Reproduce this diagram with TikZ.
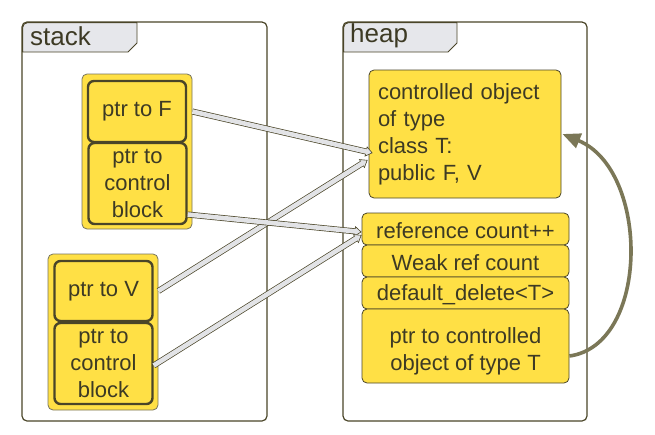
\documentclass[tikz,border=0pt]{standalone}
\usepackage{fontspec}
\setmainfont{Liberation Sans}
\usetikzlibrary{arrows.meta,calc}
\definecolor{yel}{HTML}{FFE045}
\definecolor{dk}{HTML}{4A4528}
\definecolor{txt}{HTML}{3D3A24}
\definecolor{tabgray}{HTML}{E6E7EB}
\definecolor{conngray}{HTML}{E2E3E6}
\definecolor{curv}{HTML}{7B7757}
\newcommand\lowertext[2]{\raisebox{-#1}[\height][\depth]{#2}}
\begin{document}
\begin{tikzpicture}[x=1pt,y=-1pt,
  frame/.style={draw=dk, line width=1.2pt, rounded corners=5pt, inner sep=0pt},
  tabshape/.style={draw=dk, line width=0.9pt, fill=tabgray},
  tablabel/.style={anchor=west, text=txt, font=\fontsize{26}{30}\selectfont, inner sep=0pt},
  outerbox/.style={draw=dk!75, line width=0.8pt, fill=yel, rounded corners=5pt, minimum width=110pt, inner sep=0pt},
  innerbox/.style={draw=dk, line width=2.4pt, fill=yel, rounded corners=6pt, minimum width=98pt, inner sep=0pt, align=center, text=txt, font=\fontsize{22}{27}\selectfont},
  heapbox/.style={draw=dk, line width=0.8pt, fill=yel, rounded corners=5pt, inner sep=0pt, minimum width=207pt, align=center, text=txt, font=\fontsize{22}{27}\selectfont},
  conn/.style={draw=dk, line width=6pt, -{Triangle[length=7pt,width=10.5pt,line width=0.6pt,fill=conngray]}, postaction={draw=conngray, line width=4.6pt, -, shorten >=5pt}},
  curved/.style={draw=curv, line width=3.6pt, -{Triangle[length=18pt,width=15pt]}},
]
\useasboundingbox (0,0) rectangle (655,434);
% frames
\node[frame, minimum width=245pt, minimum height=399pt] (stack) at (144.5,221.5) {};
\node[frame, minimum width=244pt, minimum height=399pt] (heap) at (465,221.5) {};
\draw[tabshape] (22.6,52) [rounded corners=5pt]-- (22.6,22.6) [sharp corners]-- (137,22.6) -- (137,43) -- (128,52) -- cycle;
\draw[tabshape] (343.6,52) [rounded corners=5pt]-- (343.6,22.6) [sharp corners]-- (457,22.6) -- (457,43) -- (448,52) -- cycle;
\node[tablabel] (stacklbl) at (30,36) {stack};
\node[tablabel] (heaplbl) at (350,36) {heap};
% stack blocks
\node[outerbox, minimum height=155pt] (blk1) at (137,151.5) {};
\node[innerbox, minimum height=61pt] (ptrF) at (137,111.5) {ptr to F};
\node[innerbox, minimum height=81pt] (ctrl1) at (137.5,183.5) {ptr to\\control\\block};
\node[outerbox, minimum height=156pt] (blk2) at (103,332) {};
\node[innerbox, minimum height=60pt] (ptrV) at (103.5,291) {ptr to V};
\node[innerbox, minimum height=81pt] (ctrl2) at (103.5,363.5) {ptr to\\control\\block};
% heap
\node[heapbox, minimum width=192pt, minimum height=128pt, text width=174pt, align=left, inner xsep=9pt] (obj) at (465,134) {controlled object\\of type\\class T:\\public F, V};
\node[heapbox, minimum height=32pt] (refc) at (465.5,229) {\lowertext{2pt}{reference count++}};
\node[heapbox, minimum height=32pt] (weak) at (465.5,261) {\lowertext{2pt}{Weak ref count}};
\node[heapbox, minimum height=32pt] (defd) at (465.5,293) {\lowertext{2pt}{default\_delete<T>}};
\node[heapbox, minimum height=74pt] (ptrc) at (465.5,346) {\lowertext{6pt}{\begin{tabular}{@{}c@{}}ptr to controlled\\object of type T\end{tabular}}};
% connectors
\draw[conn] (ptrF.east -| blk1.east) -- ([xshift=4pt,yshift=-19pt]obj.west);
\draw[conn] (ptrV.east -| blk2.east) -- ([xshift=-1pt,yshift=-26pt]obj.west);
\draw[conn] ([yshift=-31pt]ctrl1.east) -- ([yshift=-3pt]refc.west);
\draw[conn] ([yshift=-2pt]ctrl2.east) -- ([yshift=-6pt]refc.west);
\draw[curved] ([yshift=-10pt]ptrc.east) .. controls (650,345) and (650,170) .. ([xshift=1pt]obj.east);
\end{tikzpicture}
\end{document}
